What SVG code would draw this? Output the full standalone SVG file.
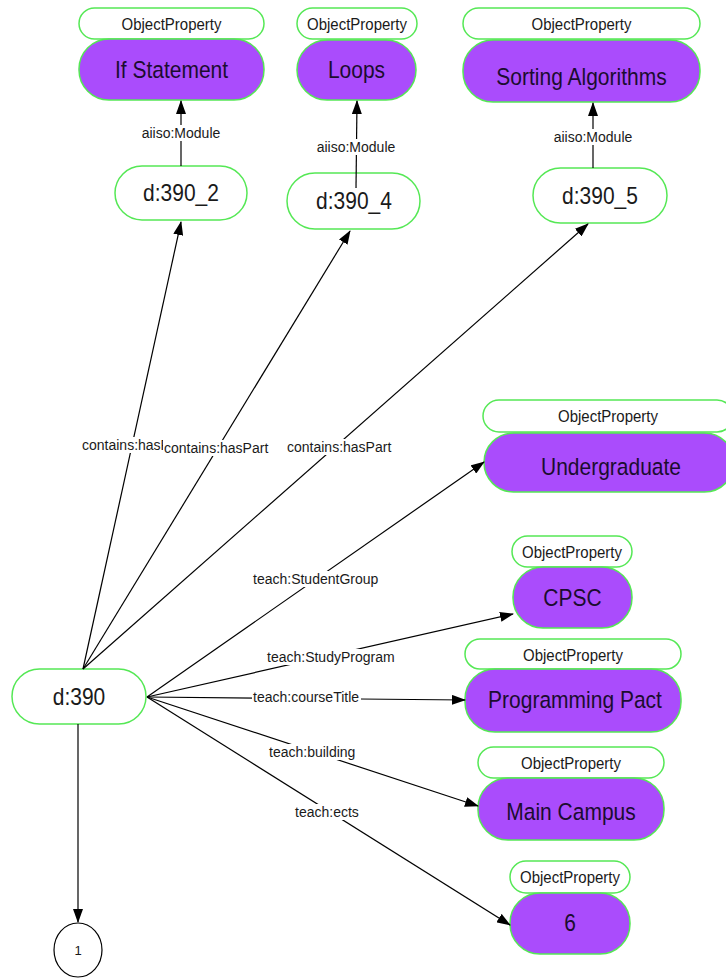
<svg xmlns="http://www.w3.org/2000/svg" width="726" height="979" viewBox="0 0 726 979">
<style>
.op{fill:#fff;stroke:#55e855;stroke-width:1.5}
.val{fill:#aa4cfc;stroke:#55e855;stroke-width:1.5}
.res{fill:#fff;stroke:#55e855;stroke-width:1.5}
.opt{font-family:"Liberation Sans",Arial,sans-serif;font-size:15px;fill:#1a1a1a;text-anchor:middle}
.vt{font-family:"Liberation Sans",Arial,sans-serif;font-size:21px;fill:#1c0c30;text-anchor:middle}
.rt{font-family:"Liberation Sans",Arial,sans-serif;font-size:21px;fill:#1a1a1a;text-anchor:middle}
.el{font-family:"Liberation Sans",Arial,sans-serif;font-size:14px;fill:#1a1a1a}
.lb{fill:#fff}
.e{stroke:#000;stroke-width:1.2;fill:none;marker-end:url(#ah)}
</style>
<defs>
<marker id="ah" markerUnits="userSpaceOnUse" markerWidth="14" markerHeight="10" refX="13" refY="5" orient="auto">
<path d="M0,0 L14,5 L0,10 Z" fill="#000"/>
</marker>
</defs>
<rect width="726" height="979" fill="#fff"/>

<g id="n-if">
<rect class="op" x="79" y="8" width="185" height="31" rx="15.5"/>
<text class="opt" transform="translate(171.5 30) scale(1 1.15)">ObjectProperty</text>
<rect class="val" x="79" y="39" width="185" height="61" rx="30"/>
<text class="vt" transform="translate(171.5 78) scale(1 1.18)">If Statement</text>
</g>
<g id="n-loops">
<rect class="op" x="297" y="8" width="120" height="31" rx="15.5"/>
<text class="opt" transform="translate(357 30) scale(1 1.15)">ObjectProperty</text>
<rect class="val" x="297" y="40" width="119" height="60" rx="30"/>
<text class="vt" transform="translate(356.5 78) scale(1 1.18)">Loops</text>
</g>
<g id="n-sort">
<rect class="op" x="463" y="8" width="237" height="31" rx="15.5"/>
<text class="opt" transform="translate(581.5 30) scale(1 1.15)">ObjectProperty</text>
<rect class="val" x="463" y="40" width="237" height="62" rx="30"/>
<text class="vt" transform="translate(581.5 85) scale(1 1.18)">Sorting Algorithms</text>
</g>
<g id="n-390_2">
<rect class="res" x="115" y="166" width="132" height="54" rx="27"/>
<text class="rt" transform="translate(181 201) scale(1 1.18)">d:390_2</text>
</g>
<g id="n-390_4">
<rect class="res" x="287" y="173" width="133" height="56" rx="28"/>
<text class="rt" transform="translate(354 209) scale(1 1.18)">d:390_4</text>
</g>
<g id="n-390_5">
<rect class="res" x="533" y="168" width="134" height="55" rx="27.5"/>
<text class="rt" transform="translate(600 204) scale(1 1.18)">d:390_5</text>
</g>
<g id="n-under">
<rect class="op" x="483" y="400" width="250" height="32" rx="16"/>
<text class="opt" transform="translate(608 422) scale(1 1.15)">ObjectProperty</text>
<rect class="val" x="484" y="433" width="250" height="59" rx="29.5"/>
<text class="vt" transform="translate(611 475) scale(1 1.18)">Undergraduate</text>
</g>
<g id="n-cpsc">
<rect class="op" x="512" y="536" width="120" height="31" rx="15.5"/>
<text class="opt" transform="translate(572 558) scale(1 1.15)">ObjectProperty</text>
<rect class="val" x="513" y="567" width="119" height="61" rx="30"/>
<text class="vt" transform="translate(572.5 606) scale(1 1.18)">CPSC</text>
</g>
<g id="n-prog">
<rect class="op" x="465" y="639" width="216" height="30" rx="15"/>
<text class="opt" transform="translate(573 661) scale(1 1.15)">ObjectProperty</text>
<rect class="val" x="465" y="669" width="216" height="63" rx="30"/>
<text class="vt" transform="translate(575 708) scale(1 1.18)">Programming Pact</text>
</g>
<g id="n-main">
<rect class="op" x="478" y="747" width="186" height="31" rx="15.5"/>
<text class="opt" transform="translate(571 769) scale(1 1.15)">ObjectProperty</text>
<rect class="val" x="478" y="778" width="186" height="62" rx="30"/>
<text class="vt" transform="translate(571 820) scale(1 1.18)">Main Campus</text>
</g>
<g id="n-6">
<rect class="op" x="510" y="861" width="120" height="32" rx="16"/>
<text class="opt" transform="translate(570 883) scale(1 1.15)">ObjectProperty</text>
<rect class="val" x="510" y="893" width="120" height="61" rx="30"/>
<text class="vt" transform="translate(570 931) scale(1 1.18)">6</text>
</g>
<g id="n-390">
<rect class="res" x="12" y="669" width="134" height="55" rx="27.5"/>
<text class="rt" transform="translate(79 705) scale(1 1.18)">d:390</text>
</g>
<g id="n-1">
<ellipse cx="78" cy="950" rx="24" ry="27" fill="#fff" stroke="#000" stroke-width="1.2"/>
<text x="78" y="955" font-family="Liberation Sans,Arial,sans-serif" font-size="13" text-anchor="middle" fill="#1a1a1a">1</text>
</g>

<g id="connectors">
<line class="e" x1="181" y1="166" x2="181" y2="101"/>
<rect class="lb" x="139" y="125" width="84" height="16"/>
<text class="el" x="181" y="138" text-anchor="middle">aiiso:Module</text>

<line class="e" x1="356" y1="188" x2="357" y2="101"/>
<rect class="lb" x="314" y="139" width="84" height="16"/>
<text class="el" x="356" y="152" text-anchor="middle">aiiso:Module</text>

<line class="e" x1="593" y1="168" x2="593" y2="103"/>
<rect class="lb" x="551" y="129" width="84" height="16"/>
<text class="el" x="593" y="142" text-anchor="middle">aiiso:Module</text>

<line class="e" x1="83" y1="669" x2="181" y2="222"/>
<line class="e" x1="83" y1="669" x2="350" y2="231"/>
<line class="e" x1="83" y1="669" x2="588" y2="224"/>
<line class="e" x1="147" y1="697" x2="484" y2="462"/>
<line class="e" x1="147" y1="697" x2="513" y2="614"/>
<line class="e" x1="147" y1="697" x2="465" y2="700"/>
<line class="e" x1="147" y1="697" x2="478" y2="806"/>
<line class="e" x1="147" y1="697" x2="510" y2="925"/>
<line class="e" x1="78" y1="724" x2="78" y2="922"/>

<rect class="lb" x="82" y="437" width="104" height="16"/>
<text class="el" x="82" y="450">contains:hasPart</text>
<rect class="lb" x="163" y="440" width="106" height="16"/>
<text class="el" x="164" y="453">contains:hasPart</text>
<rect class="lb" x="286" y="439" width="106" height="16"/>
<text class="el" x="287" y="452">contains:hasPart</text>
<rect class="lb" x="252" y="571" width="127" height="16"/>
<text class="el" x="253" y="584">teach:StudentGroup</text>
<rect class="lb" x="266" y="649" width="129" height="16"/>
<text class="el" x="267" y="662">teach:StudyProgram</text>
<rect class="lb" x="252" y="689" width="109" height="16"/>
<text class="el" x="253" y="702">teach:courseTitle</text>
<rect class="lb" x="268" y="744" width="89" height="16"/>
<text class="el" x="269" y="757">teach:building</text>
<rect class="lb" x="294" y="804" width="66" height="16"/>
<text class="el" x="295" y="817">teach:ects</text>
</g>
</svg>
